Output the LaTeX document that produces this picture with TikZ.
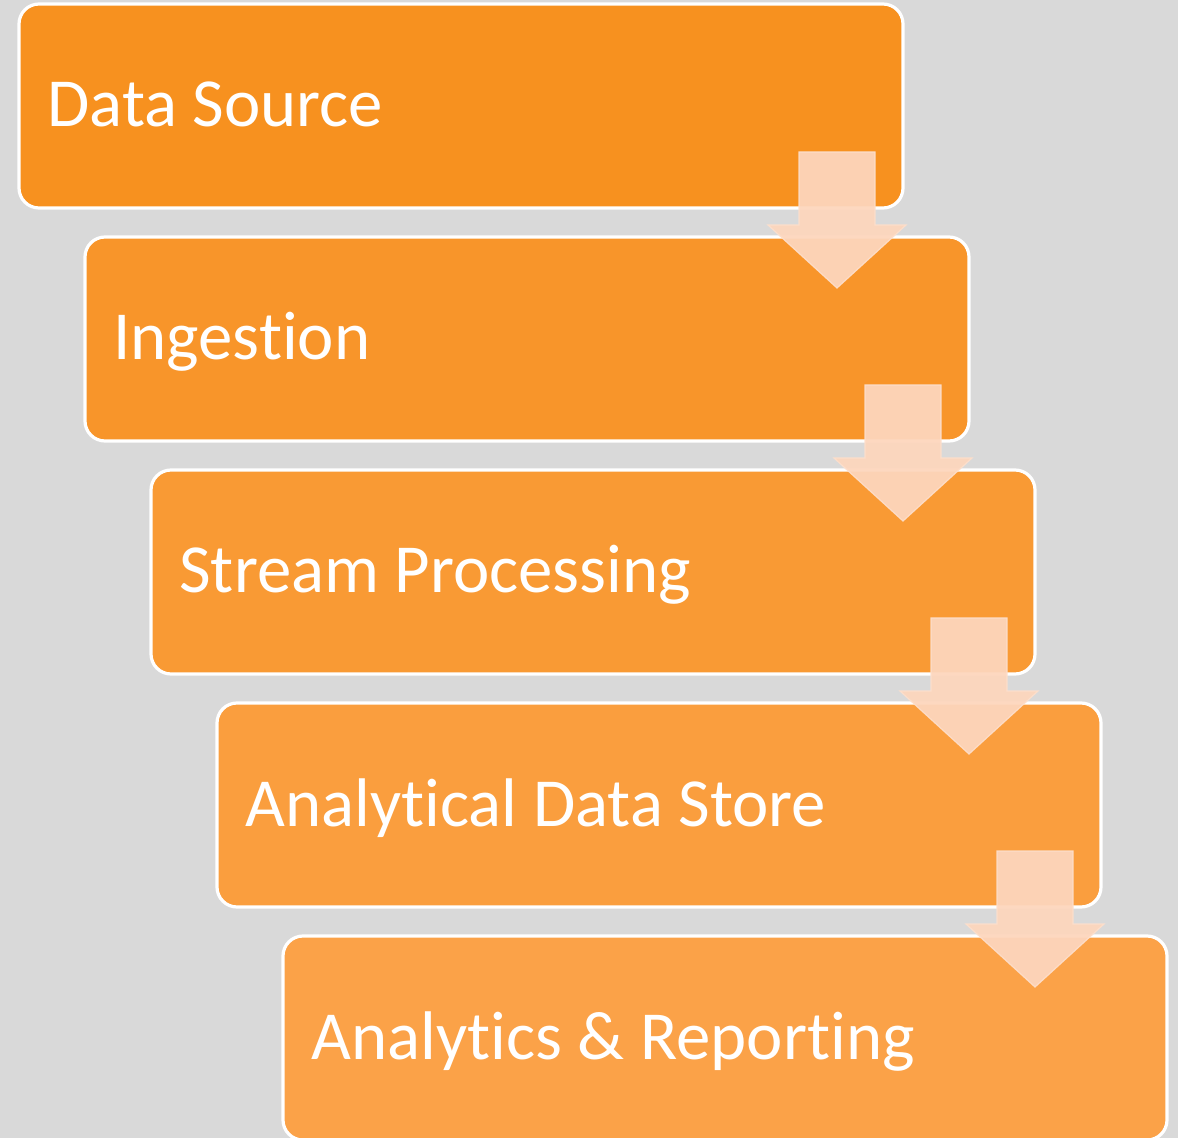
\documentclass[tikz,border=0pt]{standalone}
\usepackage{fontspec}
\setmainfont[RawFeature={-liga}]{Carlito}
\usetikzlibrary{calc}
\definecolor{bg}{HTML}{D9D9D9}
\definecolor{c1}{HTML}{F7911F}
\definecolor{c2}{HTML}{F8952A}
\definecolor{c3}{HTML}{F99A34}
\definecolor{c4}{HTML}{FA9E3E}
\definecolor{c5}{HTML}{FBA248}
\definecolor{arrowfill}{HTML}{FDD6BD}
\definecolor{arrowline}{HTML}{FDDFCC}
\tikzset{
  stagebox/.style={draw=white, line width=1.6pt, rounded corners=10pt,
    minimum width=442pt, minimum height=102pt, inner sep=0pt, outer sep=0pt, anchor=north west},
  stagetext/.style={text=white, font=\fontsize{34.4}{40}\selectfont, anchor=base west, inner sep=0pt},
  flowarrow/.style={fill=arrowfill, fill opacity=0.94, draw=arrowline, draw opacity=0.9, line width=0.6pt}
}
\begin{document}
\begin{tikzpicture}[x=0.5pt,y=-0.5pt]
\fill[bg] (0,0) rectangle (1178,1138);
\useasboundingbox (0,0) rectangle (1178,1138);
\node[stagebox, fill=c1] (b1) at (19,4) {};
\node[stagebox, fill=c2] (b2) at (85,237) {};
\node[stagebox, fill=c3] (b3) at (151,470) {};
\node[stagebox, fill=c4] (b4) at (217,703) {};
\node[stagebox, fill=c5] (b5) at (283,936) {};
\node[stagetext] (t1) at ($(b1.north west)+(28,123)$) {Data Source};
\node[stagetext] (t2) at ($(b2.north west)+(28,123)$) {Ingestion};
\node[stagetext] (t3) at ($(b3.north west)+(28,123)$) {Stream Processing};
\node[stagetext] (t4) at ($(b4.north west)+(28,123)$) {Analytical Data Store};
\node[stagetext] (t5) at ($(b5.north west)+(28,123)$) {Analytics \& Reporting};
\foreach \a/\b in {b1/b2,b2/b3,b3/b4,b4/b5}{
  \draw[flowarrow]
    ($(\a.south east)+(-104,-56)$) -- ($(\a.south east)+(-28,-56)$)
    -- ($(\a.south east)+(-28,17)$) -- ($(\a.south east)+(3,17)$)
    -- ($(\a.south east)+(-66,80)$) -- ($(\a.south east)+(-135,17)$)
    -- ($(\a.south east)+(-104,17)$) -- cycle;
}
\end{tikzpicture}
\end{document}
